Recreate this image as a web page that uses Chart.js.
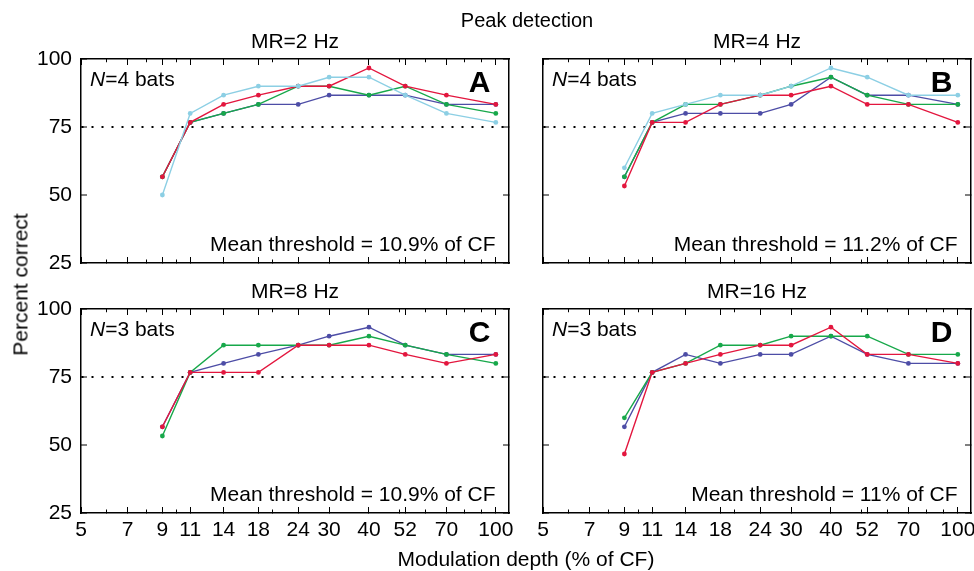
<!DOCTYPE html>
<html>
<head>
<meta charset="utf-8">
<title>Peak detection</title>
<script src="https://cdn.jsdelivr.net/npm/chart.js@4/dist/chart.umd.min.js"></script>
<style>
  html, body { margin: 0; padding: 0; background: #fff; overflow: hidden; }
  #fig { position: relative; width: 974px; height: 571px; font-family: "Liberation Sans", Arial, sans-serif; color: #000; }
  #fig canvas { position: absolute; }
  .lbl { position: absolute; white-space: nowrap; line-height: 1; }
</style>
</head>
<body>
<div id="fig">
  <canvas id="panelA" width="520" height="300" style="left:0;top:0"></canvas>
  <canvas id="panelB" width="460" height="300" style="left:520px;top:0"></canvas>
  <canvas id="panelC" width="520" height="301" style="left:0;top:270px"></canvas>
  <canvas id="panelD" width="460" height="301" style="left:520px;top:270px"></canvas>
  <div class="lbl" style="left:377px;top:10px;width:300px;text-align:center;font-size:20px">Peak detection</div>
  <div class="lbl" style="left:326px;top:548px;width:400px;text-align:center;font-size:21px">Modulation depth (% of CF)</div>
  <div class="lbl" style="left:-80px;top:274px;width:200px;height:21px;line-height:21px;text-align:center;font-size:21px;transform:rotate(-90deg)">Percent correct</div>
</div>
<script>
// ---- data ----
const depths = [9, 11, 14, 18, 24, 30, 40, 52, 70, 100];     // modulation depth (% of CF)
const xTickLabels = [5, 7, 9, 11, 14, 18, 24, 30, 40, 52, 70, 100];
const xMinorTicks = [6, 8, 10, 20, 50, 60, 80, 90];
const yTicks = [25, 50, 75, 100];

// MR = 2 Hz (A)
const blue2  = [56.7, 76.7, 80, 83.3, 83.3, 86.7, 86.7, 86.7, 83.3, 83.3];
const green2 = [56.7, 76.7, 80, 83.3, 90, 90, 86.7, 90, 83.3, 80];
const red2   = [56.7, 76.7, 83.3, 86.7, 90, 90, 96.7, 90, 86.7, 83.3];
const cyan2  = [50, 80, 86.7, 90, 90, 93.3, 93.3, 86.7, 80, 76.7];

// MR = 4 Hz (B)
const blue4  = [56.7, 76.7, 80, 80, 80, 83.3, 93.3, 86.7, 86.7, 83.3];
const green4 = [56.7, 76.7, 83.3, 83.3, 86.7, 90, 93.3, 86.7, 83.3, 83.3];
const red4   = [53.3, 76.7, 76.7, 83.3, 86.7, 86.7, 90, 83.3, 83.3, 76.7];
const cyan4  = [60, 80, 83.3, 86.7, 86.7, 90, 96.7, 93.3, 86.7, 86.7];

// MR = 8 Hz (C)
const blue8  = [56.7, 76.7, 80, 83.3, 86.7, 90, 93.3, 86.7, 83.3, 83.3];
const green8 = [53.3, 76.7, 86.7, 86.7, 86.7, 86.7, 90, 86.7, 83.3, 80];
const red8   = [56.7, 76.7, 76.7, 76.7, 86.7, 86.7, 86.7, 83.3, 80, 83.3];

// MR = 16 Hz (D)
const blue16  = [56.7, 76.7, 83.3, 80, 83.3, 83.3, 90, 83.3, 80, 80];
const green16 = [60, 76.7, 80, 86.7, 86.7, 90, 90, 90, 83.3, 83.3];
const red16   = [46.7, 76.7, 80, 83.3, 86.7, 86.7, 93.3, 83.3, 83.3, 80];

const cBlue  = '#4d4da6';
const cGreen = '#17a84a';
const cRed   = '#e3163e';
const cCyan  = '#8ccfe4';
const fontFamily = '"Liberation Sans", Arial, sans-serif';

Chart.defaults.font.family = fontFamily;
Chart.defaults.font.size = 21;
Chart.defaults.color = '#000';

// panel text: title, N, letter, mean threshold
function annotate(spec) {
  return {
    id: 'annotate',
    afterDraw(chart) {
      const ctx = chart.ctx;
      const a = chart.chartArea;
      ctx.save();
      ctx.fillStyle = '#000';
      ctx.textBaseline = 'alphabetic';

      ctx.font = '21px ' + fontFamily;
      ctx.textAlign = 'center';
      ctx.fillText(spec.title, (a.left + a.right) / 2, a.top - 11);

      ctx.textAlign = 'left';
      ctx.font = 'italic 21px ' + fontFamily;
      ctx.fillText('N', a.left + 9, a.top + 27);
      const nW = ctx.measureText('N').width;
      ctx.font = '21px ' + fontFamily;
      ctx.fillText('=' + spec.bats + ' bats', a.left + 9 + nW, a.top + 27);

      ctx.textAlign = 'right';
      ctx.font = 'bold 30px ' + fontFamily;
      ctx.fillText(spec.letter, a.right - 18.5, a.top + 32.5);

      ctx.font = '21px ' + fontFamily;
      ctx.fillText('Mean threshold = ' + spec.threshold + '% of CF', a.right - 13.5, a.bottom - 12.5);
      ctx.restore();
    }
  };
}

function line(values, color) {
  return {
    data: depths.map((d, i) => ({ x: d, y: values[i] })),
    borderColor: color,
    backgroundColor: color,
    borderWidth: 1.4,
    pointRadius: 2.4,
    pointBorderWidth: 0,
    pointBackgroundColor: color,
    tension: 0
  };
}

const logTicks = scale => {
  scale.ticks = xTickLabels.concat(xMinorTicks).map(v => ({ value: v }));
};
const isMinor = ctx => ctx.tick && xMinorTicks.includes(ctx.tick.value);

function makePanel(spec) {
  const xAxis = (pos, showLabels, height) => ({
    type: 'logarithmic',
    position: pos,
    min: 5,
    max: 110,
    afterBuildTicks: logTicks,
    afterFit: s => { s.height = height; },
    ticks: {
      display: showLabels,
      autoSkip: false,
      maxRotation: 0,
      minRotation: 0,
      padding: 11,
      callback: v => xTickLabels.includes(v) ? String(v) : ''
    },
    grid: {
      drawOnChartArea: false,
      tickLength: -6,
      tickColor: '#000',
      tickWidth: 1,
      tickBorderDash: ctx => isMinor(ctx) ? (pos === 'top' ? [0, 2.75, 4, 60] : [4, 60]) : []
    },
    border: { display: true, color: '#000', width: 1.5 }
  });

  const yAxis = (pos, showLabels, width) => ({
    type: 'linear',
    position: pos,
    min: 25,
    max: 100,
    afterBuildTicks: s => { s.ticks = yTicks.map(v => ({ value: v })); },
    afterFit: s => { s.width = width; },
    ticks: { display: showLabels, padding: 15 },
    grid: {
      drawOnChartArea: pos === 'left',
      color: ctx => (ctx.tick && ctx.tick.value === 75) ? '#000' : 'rgba(0,0,0,0)',
      lineWidth: 2,
      tickLength: -6,
      tickColor: '#000',
      tickWidth: 1
    },
    border: { display: true, color: '#000', width: 1.5, dash: [2, 8] }
  });

  new Chart(document.getElementById(spec.id), {
    type: 'line',
    data: { datasets: spec.series.map(s => line(s[0], s[1])) },
    options: {
      responsive: false,
      animation: false,
      layout: { padding: { top: spec.padTop, left: 0, right: 0, bottom: 0 } },
      plugins: {
        legend: { display: false },
        tooltip: { enabled: false },
        title: { display: false }
      },
      scales: {
        x: xAxis('bottom', spec.showX, spec.xH),
        xTop: xAxis('top', false, 0),
        y: yAxis('left', spec.showY, spec.yW),
        yRight: yAxis('right', false, spec.rW)
      }
    },
    plugins: [annotate(spec)]
  });
}

// datasets listed top-most first (cyan over red over green over blue)
makePanel({ id: 'panelA', padTop: 59, yW: 81, rW: 11, xH: 37, showX: false, showY: true,
  title: 'MR=2 Hz', letter: 'A', bats: 4, threshold: '10.9',
  series: [[cyan2, cCyan], [red2, cRed], [green2, cGreen], [blue2, cBlue]] });
makePanel({ id: 'panelB', padTop: 59, yW: 23, rW: 9, xH: 37, showX: false, showY: false,
  title: 'MR=4 Hz', letter: 'B', bats: 4, threshold: '11.2',
  series: [[cyan4, cCyan], [red4, cRed], [green4, cGreen], [blue4, cBlue]] });
makePanel({ id: 'panelC', padTop: 39, yW: 81, rW: 11, xH: 58, showX: true, showY: true,
  title: 'MR=8 Hz', letter: 'C', bats: 3, threshold: '10.9',
  series: [[red8, cRed], [green8, cGreen], [blue8, cBlue]] });
makePanel({ id: 'panelD', padTop: 39, yW: 23, rW: 9, xH: 58, showX: true, showY: false,
  title: 'MR=16 Hz', letter: 'D', bats: 3, threshold: '11',
  series: [[red16, cRed], [green16, cGreen], [blue16, cBlue]] });
</script>
</body>
</html>
